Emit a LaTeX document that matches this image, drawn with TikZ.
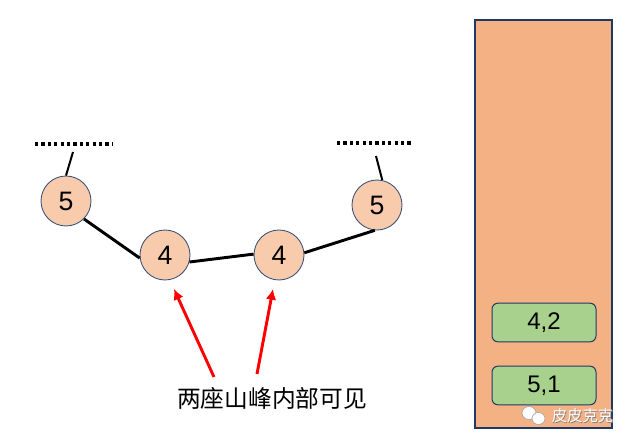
\documentclass[tikz,border=0pt]{standalone}
\usepackage{fontspec}
\setmainfont{Liberation Sans}
\newfontfamily\cjk{Noto Sans CJK SC}
\definecolor{peach}{HTML}{F8CBAD}
\definecolor{stackfill}{HTML}{F4B183}
\definecolor{boxgreen}{HTML}{A9D18E}
\definecolor{rim}{HTML}{3B5078}
\definecolor{darkrim}{HTML}{1F3864}
\tikzset{
  peak/.style={circle,draw=rim,line width=0.65pt,fill=peach,minimum size=37.5pt,inner sep=0pt,font=\fontsize{20}{22}\selectfont},
  cell/.style={draw=darkrim,line width=0.75pt,fill=boxgreen,rounded corners=4.5pt,minimum width=78pt,minimum height=29pt,inner sep=0pt,font=\fontsize{18}{20}\selectfont},
  link/.style={line width=2.2pt},
  dotline/.style={line width=2.6pt,dash pattern=on 2.4pt off 2.4pt},
  redarrow/.style={-{Latex[length=8pt,width=8pt]},red,line width=2.2pt}
}
\usetikzlibrary{arrows.meta}
\begin{document}
\begin{tikzpicture}[x=0.75pt,y=-0.75pt]
\useasboundingbox (0,0) rectangle (633,445);
% stack on the right
\node[draw=darkrim,line width=1.1pt,fill=stackfill,minimum width=102.75pt,minimum height=306pt,inner sep=0pt] (stk) at (543.5,224) {};
\node[cell] (b42) at (544,322.5) {4,2};
\node[cell] (b51) at (544,385.5) {5,1};
% watermark
\fill[white,draw=gray!70,line width=0.5pt] (529,413) ellipse (7 and 6.5);
\fill[white,draw=gray!70,line width=0.5pt] (538.5,418.5) ellipse (6.5 and 6);
\node[gray,font=\cjk\fontsize{11.5}{12}\selectfont] at (583.4,416.6) {皮皮克克};
\node[white,font=\cjk\fontsize{11.5}{12}\selectfont] (wm) at (582.5,415.5) {皮皮克克};
% the peaks
\node[peak] (n5a) at (66,201) {5};
\node[peak] (n4a) at (165,255) {4};
\node[peak] (n4b) at (279,255) {4};
\node[peak] (n5b) at (377,205) {5};
\draw[link] (n5a.-45) -- (n4a.187);
\draw[link] (n4a.-16) -- (n4b.178);
\draw[link] (n4b.5) -- (n5b.-95);
% the rest goes on
\draw[dotline] (35,144) -- (112,144);
\draw[dotline] (337,143) -- (413,143);
\coordinate (up1) at (73,152);
\coordinate (up2) at (376,156);
\draw[line width=1.5pt] (up1) -- (n5a.north);
\draw[line width=1.5pt] (up2) -- (n5b.78);
% label and arrows
\node[font=\cjk\fontsize{17.8}{20}\selectfont] (lbl) at (272,398) {两座山峰内部可见};
\coordinate (s1) at (214,377);
\coordinate (s2) at (257,374);
\coordinate (t1) at (174,289);
\coordinate (t2) at (273,289);
\draw[redarrow] (s1) -- (t1);
\draw[redarrow] (s2) -- (t2);
\end{tikzpicture}
\end{document}
